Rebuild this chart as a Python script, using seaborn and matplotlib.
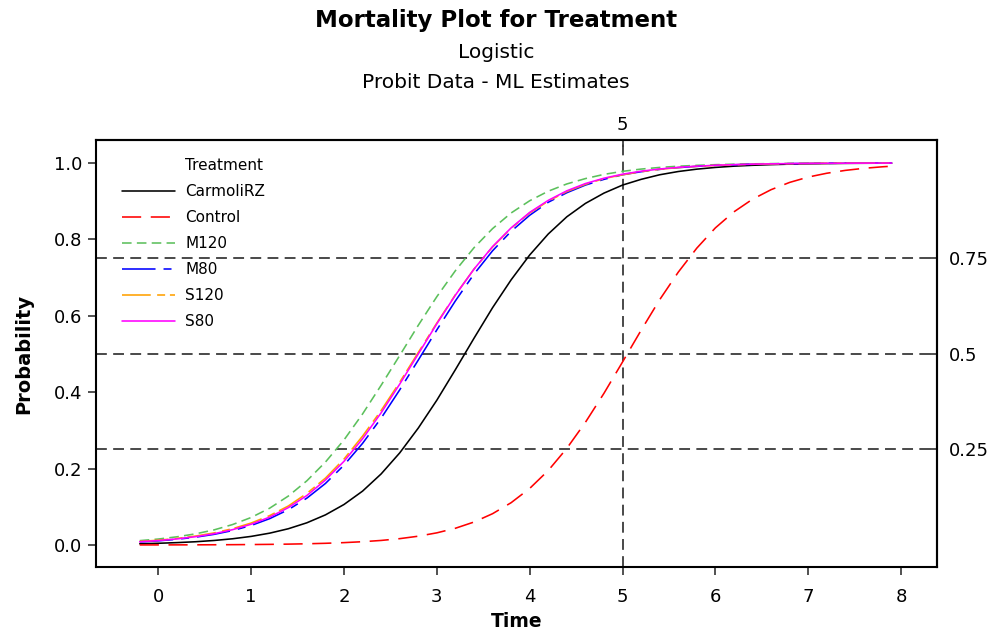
import numpy as np
import pandas as pd
import matplotlib
matplotlib.use("Agg")
import matplotlib.pyplot as plt
import seaborn as sns
from matplotlib.lines import Line2D

# ---------------- data ----------------
time = [-0.2, 0.0, 0.2, 0.4, 0.6, 0.8, 1.0, 1.2, 1.4, 1.6, 1.8, 2.0, 2.2, 2.4,
        2.6, 2.8, 3.0, 3.2, 3.4, 3.6, 3.8, 4.0, 4.2, 4.4, 4.6, 4.8, 5.0, 5.2,
        5.4, 5.6, 5.8, 6.0, 6.2, 6.4, 6.6, 6.8, 7.0, 7.2, 7.4, 7.6, 7.8, 7.9]

treatments = ["CarmoliRZ", "Control", "M120", "M80", "S120", "S80"]

carmolirz = [0.0032, 0.0045, 0.0062, 0.0085, 0.0118, 0.0163, 0.0225, 0.0310,
             0.0425, 0.0581, 0.0788, 0.106, 0.141, 0.186, 0.241, 0.306, 0.379,
             0.459, 0.541, 0.621, 0.694, 0.759, 0.814, 0.859, 0.894, 0.921,
             0.942, 0.957, 0.969, 0.9775, 0.9837, 0.9882, 0.9915, 0.9938,
             0.9955, 0.9968, 0.9977, 0.9983, 0.9988, 0.9991, 0.9994, 0.9995]

control = [0.00016, 0.00022, 0.00031, 0.00043, 0.0006, 0.00084, 0.00117,
           0.00163, 0.00228, 0.00318, 0.00443, 0.0062, 0.0086, 0.0119, 0.0166,
           0.0230, 0.0318, 0.0438, 0.0601, 0.0819, 0.1107, 0.148, 0.195, 0.253,
           0.321, 0.397, 0.479, 0.562, 0.642, 0.714, 0.777, 0.830, 0.872,
           0.905, 0.930, 0.949, 0.963, 0.973, 0.9805, 0.9859, 0.9899, 0.9914]

m120 = [0.0114, 0.0156, 0.0214, 0.0291, 0.0395, 0.0535, 0.0720, 0.0964, 0.128,
        0.168, 0.217, 0.275, 0.343, 0.418, 0.496, 0.575, 0.650, 0.718, 0.778,
        0.828, 0.869, 0.901, 0.926, 0.945, 0.959, 0.970, 0.978, 0.9839,
        0.9882, 0.9914, 0.9937, 0.9954, 0.9967, 0.9976, 0.9982, 0.9987,
        0.9991, 0.9993, 0.9995, 0.9996, 0.9997, 0.9998]

m80 = [0.0080, 0.0109, 0.0149, 0.0204, 0.0278, 0.0378, 0.0511, 0.0690, 0.0923,
       0.1226, 0.161, 0.209, 0.266, 0.332, 0.406, 0.484, 0.563, 0.639, 0.709,
       0.770, 0.821, 0.863, 0.897, 0.922, 0.942, 0.957, 0.969, 0.977, 0.9831,
       0.9877, 0.9910, 0.9934, 0.9952, 0.9965, 0.9975, 0.9982, 0.9987,
       0.9990, 0.9993, 0.9995, 0.9996, 0.9997]

s120 = [0.0093, 0.0126, 0.0172, 0.0233, 0.0316, 0.0427, 0.0575, 0.0770, 0.102,
        0.135, 0.175, 0.225, 0.285, 0.352, 0.426, 0.504, 0.581, 0.655, 0.722,
        0.780, 0.829, 0.869, 0.900, 0.925, 0.944, 0.959, 0.969, 0.977,
        0.9834, 0.9878, 0.9910, 0.9934, 0.9951, 0.9964, 0.9974, 0.9981,
        0.9986, 0.9990, 0.9993, 0.9995, 0.9996, 0.9997]

s80 = [0.0085, 0.0116, 0.0159, 0.0217, 0.0295, 0.0401, 0.0543, 0.0731, 0.0978,
       0.1295, 0.170, 0.219, 0.278, 0.346, 0.421, 0.500, 0.579, 0.654, 0.722,
       0.781, 0.830, 0.8705, 0.902, 0.927, 0.946, 0.960, 0.9705, 0.9783,
       0.9841, 0.9884, 0.9915, 0.9938, 0.9955, 0.9967, 0.9976, 0.9983,
       0.9987, 0.9991, 0.9993, 0.9995, 0.9996, 0.9997]

ref_probs = [0.25, 0.5, 0.75]
ref_prob_labels = ["0.25", "0.5", "0.75"]
ref_time = 5

series = {"CarmoliRZ": carmolirz, "Control": control, "M120": m120,
          "M80": m80, "S120": s120, "S80": s80}

df = pd.DataFrame([(t, p, name) for name in treatments
                   for t, p in zip(time, series[name])],
                  columns=["Time", "Probability", "Treatment"])

# ---------------- style ----------------
sns.set_theme(style="white")
plt.rcParams["font.family"] = ["DejaVu Sans"]
plt.rcParams["text.color"] = "black"
plt.rcParams["axes.labelcolor"] = "black"

palette = {"CarmoliRZ": "#000000", "Control": "#ff0000", "M120": "#5cc05c",
           "M80": "#0000ff", "S120": "#ffa000", "S80": "#ff00ff"}
dashes = {"CarmoliRZ": "", "Control": (12, 6), "M120": (6, 3.3),
          "M80": (21, 5, 5, 5), "S120": (18, 4, 5, 3), "S80": ""}

W, H = 998, 636
fig = plt.figure(figsize=(W / 100, H / 100), dpi=100)
L, R, T, B = 96, 937, 140, 567
ax = fig.add_axes([L / W, 1 - B / H, (R - L) / W, (B - T) / H])

sns.lineplot(data=df, x="Time", y="Probability", hue="Treatment",
             style="Treatment", hue_order=treatments, style_order=treatments,
             palette=palette, dashes=dashes, linewidth=1.15, sort=False,
             estimator=None, ax=ax, zorder=3)

for p in ref_probs:
    ax.axhline(p, color="#3a3a3a", lw=1.3, dashes=(6, 3.5), zorder=2)
ax.axvline(ref_time, color="#3a3a3a", lw=1.3, dashes=(6, 3.5), zorder=2)

ax.set_xlim(-0.671, 8.387)
ax.set_ylim(-0.0576, 1.060)
ax.set_xticks(range(0, 9))
ax.set_yticks([0.0, 0.2, 0.4, 0.6, 0.8, 1.0])
ax.set_yticklabels(["0.0", "0.2", "0.4", "0.6", "0.8", "1.0"])

for s in ax.spines.values():
    s.set_color("black")
    s.set_linewidth(1.5)

ax.tick_params(axis="both", which="both", direction="out", length=6,
               width=1.2, color="#333333", labelsize=13, labelcolor="black",
               left=True, bottom=True)
ax.tick_params(axis="x", pad=9)
ax.tick_params(axis="y", pad=4)

sec_y = ax.secondary_yaxis("right")
sec_y.set_yticks(ref_probs, labels=ref_prob_labels)
sec_y.tick_params(direction="in", length=5, width=1.2, color="#333333",
                  labelsize=13, labelcolor="black", pad=8.5)
sec_y.spines["right"].set_linewidth(1.5)

sec_x = ax.secondary_xaxis("top")
sec_x.set_xticks([ref_time], labels=[str(ref_time)])
sec_x.tick_params(direction="in", length=5, width=1.2, color="#333333",
                  labelsize=13, labelcolor="black", pad=4)
sec_x.spines["top"].set_linewidth(1.5)

ax.set_xlabel("Time", fontsize=13.5, fontweight="bold")
ax.set_ylabel("Probability", fontsize=14, fontweight="bold")
ax.xaxis.set_label_coords(0.5, -0.105)
ax.yaxis.set_label_coords(-0.075, 0.5)

# legend with title row aligned to labels
handles, labels = ax.get_legend_handles_labels()
hmap = dict(zip(labels, handles))
blank = Line2D([], [], color="none")
leg_handles = [blank] + [hmap[t] for t in treatments]
leg_labels = ["Treatment"] + treatments
ax.legend(leg_handles, leg_labels, loc="upper left",
          bbox_to_anchor=((122 - L) / (R - L), (B - 158) / (B - T)),
          frameon=False, fontsize=11, handlelength=3.5, handletextpad=0.65,
          labelspacing=0.72, borderpad=0, borderaxespad=0)

fig.text(0.497, 1 - 20 / H, "Mortality Plot for Treatment", ha="center",
         va="center", fontsize=16.5, fontweight="bold")
fig.text(0.497, 1 - 52 / H, "Logistic", ha="center", va="center",
         fontsize=14.5)
fig.text(0.497, 1 - 83 / H, "Probit Data - ML Estimates", ha="center",
         va="center", fontsize=14.5)

fig.savefig("out.png", dpi=100)
